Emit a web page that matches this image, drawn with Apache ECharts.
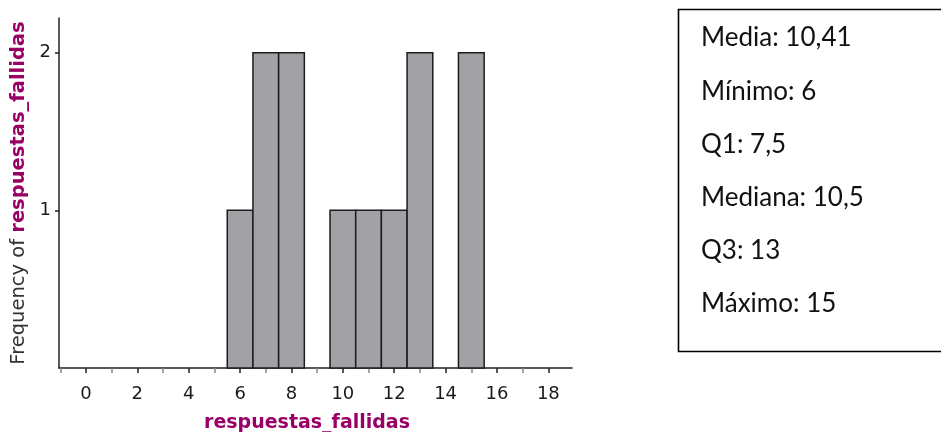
<!DOCTYPE html>
<html>
<head>
<meta charset="utf-8">
<script src="https://cdn.jsdelivr.net/npm/echarts@6/dist/echarts.min.js"></script>
<style>
  html, body { margin: 0; padding: 0; background: #fff; }
  #chart { width: 941px; height: 432px; }
</style>
</head>
<body>
<div id="chart"></div>
<script>
// Frequency histogram of failed answers, with a summary box on the right.
const fallidas = [6, 7, 8, 10, 11, 12, 13, 15];
const frecuencia = [1, 2, 2, 1, 1, 1, 2, 2];
const xMajorTicks = [0, 2, 4, 6, 8, 10, 12, 14, 16, 18];
const xMinorTicks = [-1, 1, 3, 5, 7, 9, 11, 13, 15, 17];
const yTicks = [1, 2];
const statNames = ['Media', 'Mínimo', 'Q1', 'Mediana', 'Q3', 'Máximo'];
const statValues = ['10,41', '6', '7,5', '10,5', '13', '15'];

const purple = '#990066';
const axisFont = 'DejaVu Sans';

const chart = echarts.init(document.getElementById('chart'), null, { renderer: 'canvas' });

const statText = statNames.map((n, i) => ({
  type: 'text',
  left: 701,
  top: 25 + i * 53.2,
  style: {
    text: n + ': ' + statValues[i],
    font: '26px Lato',
    fill: '#111'
  }
}));

chart.setOption({
  animation: false,
  grid: { left: 59, top: 18, right: 369, bottom: 64, containLabel: false, outerBoundsMode: 'none' },
  xAxis: [
    {
      type: 'value', min: -1.05, max: 18.92,
      name: 'respuestas_fallidas',
      nameLocation: 'middle', nameGap: 46,
      nameTextStyle: { fontFamily: axisFont, fontWeight: 'bold', fontSize: 19, color: purple, padding: [0, 17, 0, 0] },
      axisLine: { show: true, onZero: false, lineStyle: { color: '#222', width: 1.5 } },
      axisTick: { show: true, customValues: xMajorTicks, length: 5, lineStyle: { color: '#222', width: 1.5 } },
      axisLabel: { customValues: xMajorTicks, fontFamily: axisFont, fontSize: 18, color: '#1a1a1a', margin: 17 },
      splitLine: { show: false }
    },
    {
      type: 'value', min: -1.05, max: 18.92, position: 'bottom',
      axisLine: { show: false, onZero: false },
      axisTick: { show: true, customValues: xMinorTicks, length: 5, lineStyle: { color: '#888', width: 1.5 } },
      axisLabel: { show: false },
      splitLine: { show: false }
    }
  ],
  yAxis: {
    type: 'value', min: 0, max: 2.22,
    name: '{a|Frequency of }{b|respuestas_fallidas}',
    nameLocation: 'middle', nameRotate: 90, nameGap: 30,
    nameTextStyle: {
      rich: {
        a: { fontFamily: axisFont, fontSize: 19.5, color: '#333' },
        b: { fontFamily: axisFont, fontSize: 19.5, fontWeight: 'bold', color: purple }
      }
    },
    axisLine: { show: true, onZero: false, lineStyle: { color: '#222', width: 1.5 } },
    axisTick: { show: true, customValues: yTicks, length: 4, lineStyle: { color: '#222', width: 1.5 } },
    axisLabel: { customValues: yTicks, fontFamily: axisFont, fontSize: 18, color: '#1a1a1a', margin: 8 },
    splitLine: { show: false }
  },
  series: [{
    type: 'custom',
    xAxisIndex: 0,
    data: fallidas.map((v, i) => [v, frecuencia[i]]),
    renderItem: function (params, api) {
      const x = api.value(0), y = api.value(1);
      const p0 = api.coord([x - 0.5, y]);
      const p1 = api.coord([x + 0.5, 0]);
      return {
        type: 'rect',
        shape: { x: p0[0], y: p0[1], width: p1[0] - p0[0], height: p1[1] - p0[1] },
        style: { fill: '#a2a1a6', stroke: '#1c1c1c', lineWidth: 1.5 }
      };
    }
  }],
  graphic: [
    {
      type: 'rect',
      shape: { x: 678.5, y: 9.5, width: 280, height: 342 },
      style: { fill: 'none', stroke: '#000', lineWidth: 1.6 }
    }
  ].concat(statText)
});
</script>
</body>
</html>
